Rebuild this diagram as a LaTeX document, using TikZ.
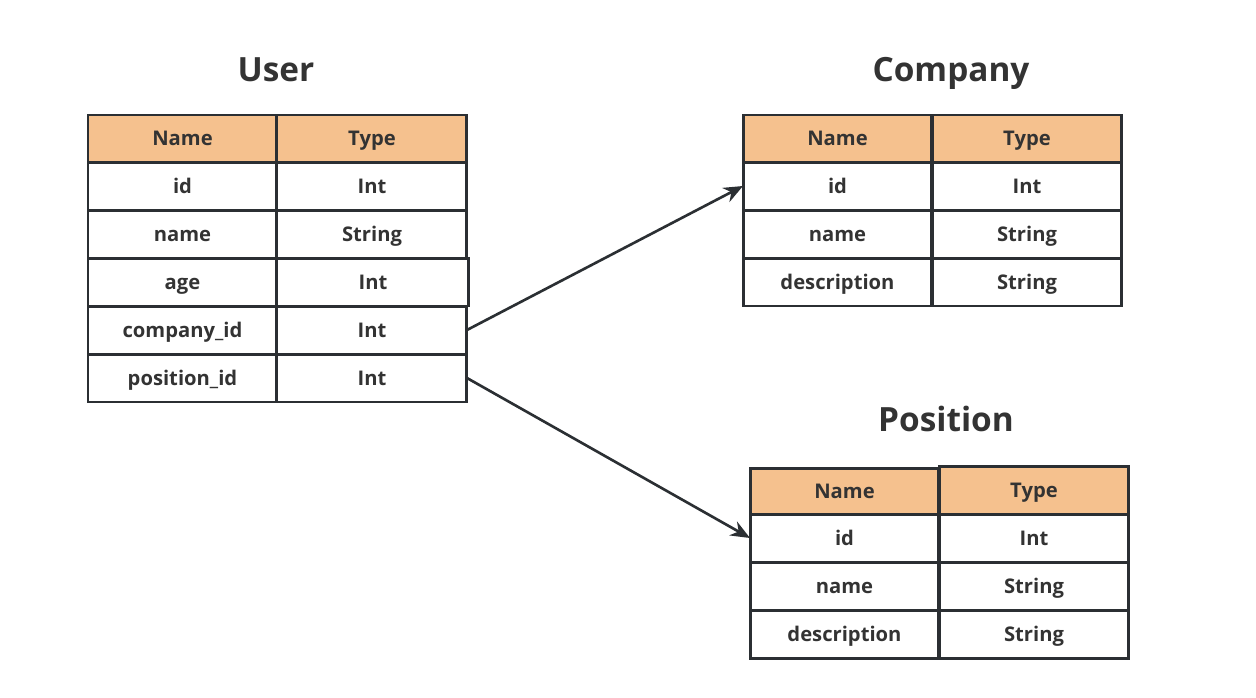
\documentclass[tikz,border=0pt]{standalone}
\usepackage{fontspec}
\setmainfont{Open Sans}
\usetikzlibrary{arrows.meta,positioning}

\definecolor{lineC}{HTML}{2B2F33}
\definecolor{textC}{HTML}{333333}
\definecolor{headC}{HTML}{F5C18E}

\tikzset{
  cell/.style={draw=lineC, line width=1.7pt, rectangle, anchor=north west,
    minimum width=3.78cm, minimum height=0.96cm, inner sep=0pt, outer sep=0pt,
    text height=8.2pt, text depth=0pt,
    text=textC, font=\fontsize{11.5}{13}\selectfont\bfseries},
  headcell/.style={cell, fill=headC, minimum height=0.94cm},
  tabtitle/.style={text=textC, text height=13.6pt, text depth=0pt, inner sep=0pt,
    font=\fontsize{19}{22}\selectfont\bfseries},
  link/.style={draw=lineC, line width=1.5pt, -{Stealth[length=11pt,width=9pt]}}
}

\begin{document}
\begin{tikzpicture}[x=0.02cm, y=-0.02cm]
\useasboundingbox (0,0) rectangle (1256,697);

% User
\node[tabtitle] (u-title) at (276,70) {User};
\node[headcell] (u-h-n) at (88,115) {Name};
\node[headcell, minimum width=3.8cm] (u-h-t) at (277,115) {Type};
\node[cell] (u-id-n) at (88,162) {id};
\node[cell, minimum width=3.8cm] (u-id-t) at (277,162) {Int};
\node[cell] (u-name-n) at (88,210) {name};
\node[cell, minimum width=3.8cm] (u-name-t) at (277,210) {String};
\node[cell] (u-age-n) at (88,258) {age};
\node[cell, minimum width=3.84cm] (u-age-t) at (277,258) {Int};
\node[cell] (u-cid-n) at (88,306) {company\_id};
\node[cell, minimum width=3.8cm] (u-cid-t) at (277,306) {Int};
\node[cell] (u-pid-n) at (88,354) {position\_id};
\node[cell, minimum width=3.8cm] (u-pid-t) at (277,354) {Int};

% Company
\node[tabtitle] (c-title) at (951,70) {Company};
\node[headcell] (c-h-n) at (743,115) {Name};
\node[headcell, minimum width=3.8cm] (c-h-t) at (932,115) {Type};
\node[cell] (c-id-n) at (743,162) {id};
\node[cell, minimum width=3.8cm] (c-id-t) at (932,162) {Int};
\node[cell] (c-name-n) at (743,210) {name};
\node[cell, minimum width=3.8cm] (c-name-t) at (932,210) {String};
\node[cell] (c-desc-n) at (743,258) {description};
\node[cell, minimum width=3.8cm] (c-desc-t) at (932,258) {String};

% Position
\node[tabtitle] (p-title) at (946,420) {Position};
\node[headcell, minimum height=0.92cm] (p-h-n) at (750,468) {Name};
\node[headcell, minimum width=3.8cm, minimum height=0.96cm] (p-h-t) at (939,466) {Type};
\node[cell] (p-id-n) at (750,514) {id};
\node[cell, minimum width=3.8cm] (p-id-t) at (939,514) {Int};
\node[cell] (p-name-n) at (750,562) {name};
\node[cell, minimum width=3.8cm] (p-name-t) at (939,562) {String};
\node[cell] (p-desc-n) at (750,610) {description};
\node[cell, minimum width=3.8cm] (p-desc-t) at (939,610) {String};

% links
\draw[link] (u-cid-t.east) -- (c-id-n.west);
\draw[link] (u-pid-t.east) -- (p-id-n.west);
\end{tikzpicture}
\end{document}
